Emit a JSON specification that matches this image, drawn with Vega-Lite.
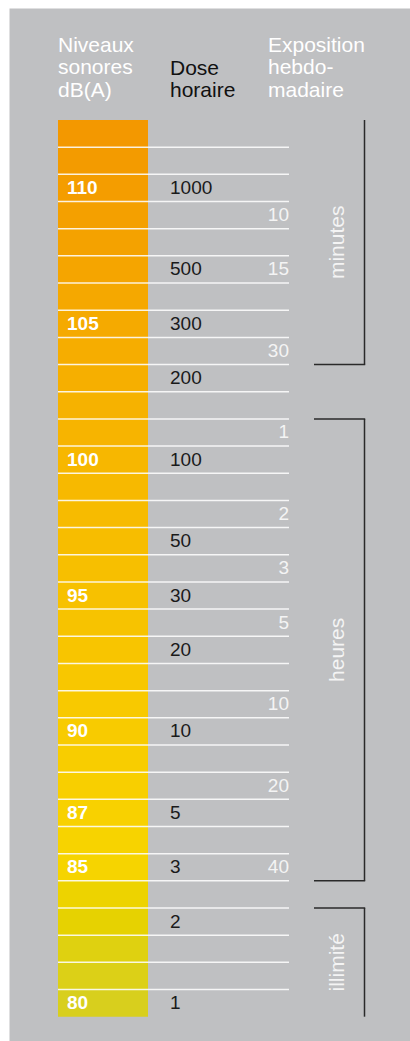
{
  "$schema": "https://vega.github.io/schema/vega-lite/v6.json",
  "width": 401,
  "height": 1033,
  "autosize": "none",
  "padding": {"left": 9, "top": 8, "right": 0, "bottom": 0},
  "background": "#ffffff",
  "view": {"fill": "#bfc0c2", "stroke": "transparent"},
  "config": {"font": "Liberation Sans"},
  "datasets": {
    "rows": [
      {"db": 112}, {"db": 111},
      {"db": 110, "niveau": "110", "dose": "1000"},
      {"db": 109, "expo": "10"},
      {"db": 108},
      {"db": 107, "dose": "500", "expo": "15"},
      {"db": 106},
      {"db": 105, "niveau": "105", "dose": "300"},
      {"db": 104, "expo": "30"},
      {"db": 103, "dose": "200"},
      {"db": 102},
      {"db": 101, "expo": "1"},
      {"db": 100, "niveau": "100", "dose": "100"},
      {"db": 99},
      {"db": 98, "expo": "2"},
      {"db": 97, "dose": "50"},
      {"db": 96, "expo": "3"},
      {"db": 95, "niveau": "95", "dose": "30"},
      {"db": 94, "expo": "5"},
      {"db": 93, "dose": "20"},
      {"db": 92},
      {"db": 91, "expo": "10"},
      {"db": 90, "niveau": "90", "dose": "10"},
      {"db": 89},
      {"db": 88, "expo": "20"},
      {"db": 87, "niveau": "87", "dose": "5"},
      {"db": 86},
      {"db": 85, "niveau": "85", "dose": "3", "expo": "40"},
      {"db": 84},
      {"db": 83, "dose": "2"},
      {"db": 82}, {"db": 81},
      {"db": 80, "niveau": "80", "dose": "1"}
    ],
    "groups": [
      {"unite": "minutes", "from": 112, "to": 104, "mid": 108},
      {"unite": "heures", "from": 101, "to": 85, "mid": 93},
      {"unite": "illimité", "from": 83, "to": 80, "mid": 81}
    ],
    "ticks": [{"db": 103}, {"db": 101}, {"db": 84}, {"db": 83}]
  },
  "layer": [
    {
      "data": {"name": "rows"},
      "mark": {"type": "rect", "x": 49, "x2": 139},
      "encoding": {
        "y": {"field": "db", "type": "ordinal", "axis": null,
              "scale": {"domain": [112,111,110,109,108,107,106,105,104,103,102,101,100,99,98,97,96,95,94,93,92,91,90,89,88,87,86,85,84,83,82,81,80], "range": [112, 1008.7], "paddingInner": 0, "paddingOuter": 0}},
        "color": {"field": "db", "type": "quantitative", "legend": null,
                  "scale": {"domain": [80, 82, 83, 84, 85, 87, 100, 112],
                            "range": ["#d8cf1d", "#dfd110", "#e6d201", "#edd300", "#f6d400", "#f8d100", "#f7b700", "#f39800"],
                            "interpolate": "rgb"}}
      }
    },
    {
      "data": {"name": "rows"},
      "transform": [{"filter": "datum.db < 112"}],
      "mark": {"type": "rule", "x": 49, "x2": 280, "stroke": "#ffffff", "strokeWidth": 1.5, "opacity": 0.85},
      "encoding": {
        "y": {"field": "db", "type": "ordinal", "bandPosition": 0, "axis": null}
      }
    },
    {
      "data": {"name": "rows"},
      "transform": [{"filter": "isValid(datum.niveau)"}],
      "mark": {"type": "text", "x": 58, "align": "left", "baseline": "middle", "fontWeight": "bold", "fontSize": 19, "color": "#ffffff"},
      "encoding": {
        "y": {"field": "db", "type": "ordinal", "axis": null},
        "text": {"field": "niveau", "type": "nominal"}
      }
    },
    {
      "data": {"name": "rows"},
      "transform": [{"filter": "isValid(datum.dose)"}],
      "mark": {"type": "text", "x": 161, "align": "left", "baseline": "middle", "fontSize": 19, "color": "#1a1a1a"},
      "encoding": {
        "y": {"field": "db", "type": "ordinal", "axis": null},
        "text": {"field": "dose", "type": "nominal"}
      }
    },
    {
      "data": {"name": "rows"},
      "transform": [{"filter": "isValid(datum.expo)"}],
      "mark": {"type": "text", "x": 280, "align": "right", "baseline": "middle", "fontSize": 19, "color": "#f4f4f4"},
      "encoding": {
        "y": {"field": "db", "type": "ordinal", "axis": null},
        "text": {"field": "expo", "type": "nominal"}
      }
    },
    {
      "data": {"name": "groups"},
      "mark": {"type": "rule", "x": 355.5, "y2Offset": 13.58, "stroke": "#2a2a2a", "strokeWidth": 1.5},
      "encoding": {
        "y": {"field": "from", "type": "ordinal", "bandPosition": 0, "axis": null},
        "y2": {"field": "to"}
      }
    },
    {
      "data": {"name": "ticks"},
      "mark": {"type": "rule", "x": 305, "x2": 356.2, "stroke": "#2a2a2a", "strokeWidth": 1.5},
      "encoding": {
        "y": {"field": "db", "type": "ordinal", "bandPosition": 0, "axis": null}
      }
    },
    {
      "data": {"name": "groups"},
      "transform": [{"filter": "datum.unite != 'illimité'"}],
      "mark": {"type": "text", "x": 329, "angle": 270, "align": "center", "baseline": "middle", "fontSize": 21, "color": "#f4f4f4"},
      "encoding": {
        "y": {"field": "mid", "type": "ordinal", "axis": null},
        "text": {"field": "unite", "type": "nominal"}
      }
    },
    {
      "data": {"name": "groups"},
      "transform": [{"filter": "datum.unite == 'illimité'"}],
      "mark": {"type": "text", "x": 329, "angle": 270, "align": "center", "baseline": "middle", "fontSize": 21, "color": "#f4f4f4"},
      "encoding": {
        "y": {"field": "mid", "type": "ordinal", "bandPosition": 0, "axis": null},
        "text": {"field": "unite", "type": "nominal"}
      }
    },
    {
      "data": {"values": [{}]},
      "mark": {"type": "text", "x": 49, "y": 44.3, "align": "left", "baseline": "alphabetic", "fontSize": 21, "lineHeight": 22.2, "color": "#ffffff",
               "text": ["Niveaux", "sonores", "dB(A)"]}
    },
    {
      "data": {"values": [{}]},
      "mark": {"type": "text", "x": 161, "y": 66.5, "align": "left", "baseline": "alphabetic", "fontSize": 21, "lineHeight": 22.2, "color": "#111111",
               "text": ["Dose", "horaire"]}
    },
    {
      "data": {"values": [{}]},
      "mark": {"type": "text", "x": 259, "y": 44.3, "align": "left", "baseline": "alphabetic", "fontSize": 21, "lineHeight": 22.2, "color": "#ffffff",
               "text": ["Exposition", "hebdo-", "madaire"]}
    }
  ]
}
